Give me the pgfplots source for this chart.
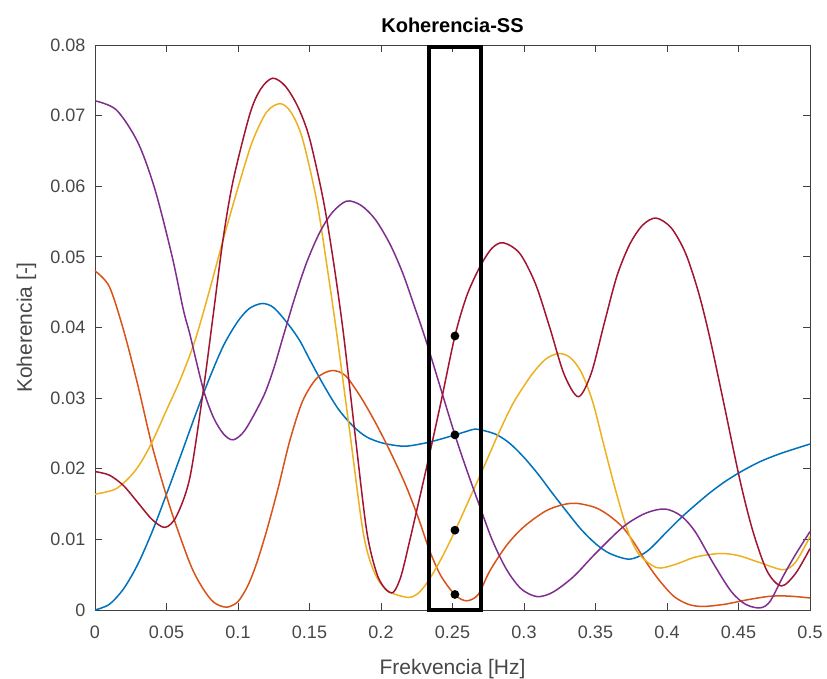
\documentclass[border=0pt]{standalone}
\usepackage{pgfplots}
\pgfplotsset{compat=1.18}
\usepackage{fontspec}
\setmainfont{Liberation Sans}
\definecolor{mblue}{rgb}{0,0.447,0.741}
\definecolor{morange}{rgb}{0.85,0.325,0.098}
\definecolor{myellow}{rgb}{0.929,0.694,0.125}
\definecolor{mpurple}{rgb}{0.494,0.184,0.556}
\definecolor{mred}{rgb}{0.635,0.078,0.184}
\definecolor{maxis}{rgb}{0.25,0.25,0.25}
\begin{document}
\begin{tikzpicture}
\useasboundingbox (-95pt,-69pt) rectangle (732pt,610pt);
\begin{axis}[
  at={(0,0)}, anchor=south west,
  width=715pt, height=565pt, scale only axis,
  xmin=0, xmax=0.5, ymin=0, ymax=0.08,
  clip=false,
  scaled x ticks=false, scaled y ticks=false,
  xtick={0,0.05,0.1,0.15,0.2,0.25,0.3,0.35,0.4,0.45,0.5},
  xticklabels={0,0.05,0.1,0.15,0.2,0.25,0.3,0.35,0.4,0.45,0.5},
  ytick={0,0.01,0.02,0.03,0.04,0.05,0.06,0.07,0.08},
  yticklabels={0,0.01,0.02,0.03,0.04,0.05,0.06,0.07,0.08},
  tick align=inside,
  major tick length=7pt,
  axis line style={maxis, line width=0.9pt},
  every tick/.style={maxis, line width=0.9pt},
  ticklabel style={font=\fontsize{18}{20}\selectfont, text=black!72},
  xticklabel style={yshift=-12pt},
  yticklabel style={xshift=-6pt},
  title={\textbf{Koherencia-SS}},
  title style={at={(axis description cs:0.5,1)}, anchor=base, yshift=7pt, font=\fontsize{20}{22}\selectfont, text=black},
  xlabel={Frekvencia [Hz]},
  xlabel style={at={(axis description cs:0.5,0)}, anchor=base, yshift=-65pt, font=\fontsize{21}{24}\selectfont, text=black!72},
  ylabel={Koherencia [-]},
  ylabel style={at={([xshift=-63pt]axis description cs:0,0.5)}, anchor=base, font=\fontsize{21}{24}\selectfont, text=black!72},
  every axis plot/.append style={line width=1.5pt, smooth, tension=0.5},
]
% blue
\addplot[mblue] coordinates {
(0,0) (0.01,0.0008) (0.02,0.0030) (0.03,0.0065) (0.04,0.0111) (0.05,0.0164) (0.06,0.0219) (0.07,0.0275) (0.08,0.0328) (0.09,0.0375) (0.1,0.0409) (0.108,0.0427) (0.117,0.0434) (0.125,0.0428) (0.135,0.0405) (0.143,0.0382) (0.1503,0.0354) (0.16,0.0318) (0.17,0.0285) (0.1806,0.026) (0.19,0.0245) (0.2,0.0237) (0.21,0.0233) (0.218,0.0232) (0.23,0.0236) (0.24,0.0241) (0.252,0.0248) (0.26,0.0253) (0.267,0.0256) (0.28,0.0249) (0.29,0.0236) (0.3,0.0216) (0.31,0.0192) (0.32,0.0165) (0.33,0.0139) (0.34,0.0114) (0.35,0.0094) (0.36,0.0080) (0.374,0.0072) (0.386,0.0083) (0.4,0.0111) (0.41,0.0131) (0.42,0.0149) (0.43,0.0166) (0.44,0.0181) (0.451,0.0195) (0.465,0.021) (0.48,0.0222) (0.5,0.0235)};
% orange
\addplot[morange] coordinates {
(0,0.048) (0.01,0.0458) (0.02,0.0396) (0.03,0.0318) (0.04,0.0232) (0.0524,0.0146) (0.0664,0.0066) (0.075,0.0032) (0.083,0.0011) (0.092,0.0004) (0.1,0.0012) (0.107,0.0035) (0.113,0.0066) (0.12,0.0112) (0.128,0.0172) (0.136,0.0238) (0.145,0.0295) (0.155,0.0328) (0.1655,0.0339) (0.175,0.0332) (0.186,0.0301) (0.197,0.0262) (0.207,0.0222) (0.217,0.0178) (0.226,0.0131) (0.234,0.0084) (0.242,0.0048) (0.252,0.0021) (0.26,0.0013) (0.268,0.0022) (0.276,0.0055) (0.288,0.0092) (0.3,0.0118) (0.315,0.014) (0.327,0.0149) (0.337,0.0151) (0.35,0.0145) (0.36,0.0133) (0.3695,0.0116) (0.378,0.0092) (0.386,0.0066) (0.395,0.0041) (0.405,0.0019) (0.415,0.0008) (0.425,0.0005) (0.44,0.0008) (0.455,0.0014) (0.47,0.0019) (0.48,0.002) (0.49,0.0019) (0.5,0.0017)};
% yellow
\addplot[myellow] coordinates {
(0,0.0164) (0.015,0.0172) (0.028,0.0197) (0.0385,0.0232) (0.05,0.0283) (0.06,0.0328) (0.07,0.0382) (0.08,0.0452) (0.09,0.0527) (0.1,0.0598) (0.11,0.0663) (0.12,0.0705) (0.1294,0.0717) (0.137,0.0705) (0.145,0.0668) (0.155,0.058) (0.162,0.049) (0.169,0.0392) (0.1783,0.025) (0.1876,0.0109) (0.195,0.0055) (0.204,0.0028) (0.218,0.0018) (0.225,0.0022) (0.232,0.0038) (0.242,0.0072) (0.252,0.0113) (0.262,0.0158) (0.272,0.0203) (0.282,0.0249) (0.2925,0.0293) (0.305,0.0332) (0.315,0.0355) (0.324,0.0363) (0.332,0.0358) (0.34,0.0337) (0.348,0.0295) (0.356,0.0232) (0.364,0.017) (0.372,0.0115) (0.38,0.008) (0.3928,0.006) (0.405,0.0064) (0.42,0.0075) (0.437,0.008) (0.45,0.0077) (0.465,0.0067) (0.4813,0.0057) (0.49,0.0068) (0.5,0.0104)};
% purple
\addplot[mpurple] coordinates {
(0,0.0721) (0.015,0.0708) (0.03,0.0662) (0.042,0.0595) (0.054,0.05) (0.0618,0.0425) (0.0664,0.039) (0.0758,0.0312) (0.083,0.0272) (0.09,0.0249) (0.0967,0.0241) (0.105,0.0255) (0.1177,0.0302) (0.125,0.0342) (0.1317,0.0388) (0.14,0.0444) (0.148,0.0492) (0.157,0.0534) (0.166,0.0563) (0.176,0.0579) (0.186,0.0573) (0.196,0.0553) (0.2063,0.0518) (0.215,0.0478) (0.223,0.0432) (0.232,0.0378) (0.2506,0.0255) (0.26,0.0198) (0.2692,0.0146) (0.278,0.0098) (0.2879,0.0057) (0.298,0.003) (0.309,0.0019) (0.32,0.0025) (0.3345,0.0047) (0.35,0.008) (0.3695,0.0118) (0.385,0.0137) (0.3986,0.0143) (0.41,0.0133) (0.42,0.011) (0.4324,0.0066) (0.445,0.0026) (0.455,0.0008) (0.465,0.0003) (0.472,0.0012) (0.481,0.0047) (0.49,0.0079) (0.5,0.0111)};
% dark red
\addplot[mred] coordinates {
(0,0.0196) (0.01,0.0191) (0.02,0.0176) (0.03,0.0152) (0.04,0.0128) (0.049,0.0117) (0.057,0.0133) (0.0664,0.0188) (0.0758,0.0312) (0.0828,0.042) (0.0897,0.0527) (0.0967,0.0609) (0.1084,0.0703) (0.116,0.0738) (0.1242,0.0753) (0.133,0.0742) (0.142,0.0712) (0.15,0.0668) (0.1597,0.058) (0.167,0.049) (0.1737,0.0392) (0.1818,0.025) (0.19,0.0112) (0.197,0.0052) (0.203,0.003) (0.2086,0.0025) (0.214,0.0048) (0.2203,0.0100) (0.232,0.0203) (0.242,0.0295) (0.2517,0.0388) (0.26,0.0445) (0.2692,0.0486) (0.2775,0.0512) (0.2855,0.052) (0.297,0.0505) (0.308,0.0462) (0.318,0.04) (0.328,0.0334) (0.338,0.0302) (0.347,0.0335) (0.356,0.0405) (0.365,0.0473) (0.374,0.0518) (0.383,0.0545) (0.3923,0.0555) (0.403,0.0541) (0.413,0.0505) (0.422,0.045) (0.43,0.0385) (0.44,0.029) (0.451,0.0184) (0.46,0.0112) (0.47,0.0055) (0.48,0.0034) (0.49,0.0052) (0.5,0.0087)};
% rectangle
\addplot[black, line width=3.8pt, sharp plot, line join=miter] coordinates {
(0.2338,0) (0.2697,0) (0.2697,0.0797) (0.2338,0.0797) (0.2338,0) (0.2697,0)};
% points
\addplot[only marks, mark=*, mark size=3.6pt, black] coordinates {
(0.2517,0.0388) (0.2517,0.0248) (0.2517,0.0113) (0.2517,0.0022)};
\end{axis}
\end{tikzpicture}
\end{document}
